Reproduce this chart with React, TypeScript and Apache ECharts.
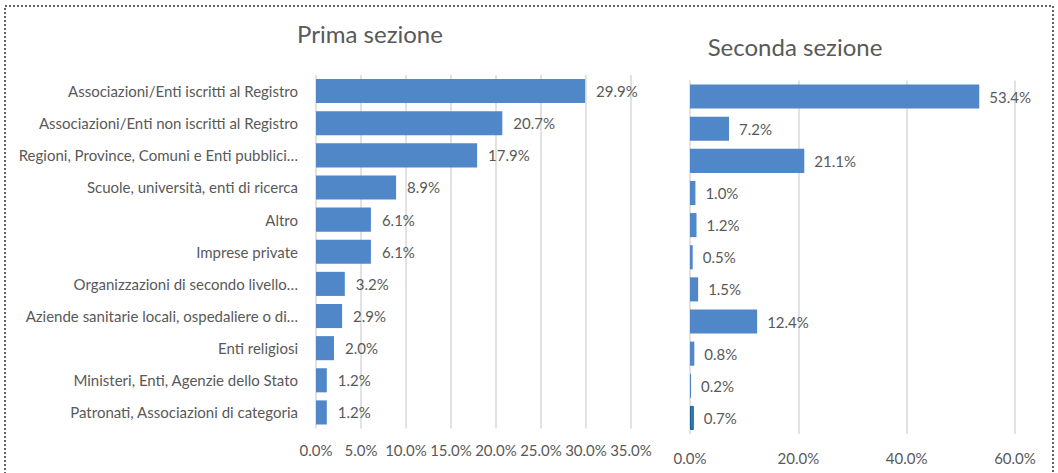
import React, { useEffect, useRef } from "react";
import * as echarts from "echarts";

const categories = [
  "Associazioni/Enti iscritti al Registro",
  "Associazioni/Enti non iscritti al Registro",
  "Regioni, Province, Comuni e Enti pubblici…",
  "Scuole, università, enti di ricerca",
  "Altro",
  "Imprese private",
  "Organizzazioni di secondo livello…",
  "Aziende sanitarie locali, ospedaliere o di…",
  "Enti religiosi",
  "Ministeri, Enti, Agenzie dello Stato",
  "Patronati, Associazioni di categoria",
];

const primaSezione = [29.9, 20.7, 17.9, 8.9, 6.1, 6.1, 3.2, 2.9, 2.0, 1.2, 1.2];
const secondaSezione = [53.4, 7.2, 21.1, 1.0, 1.2, 0.5, 1.5, 12.4, 0.8, 0.2, 0.7];

const titles = ["Prima sezione", "Seconda sezione"];

const FONT = "Lato";
const GRAY = "#595959";
const BAR = "#4f87c8";
const GRID = "#d9d9d9";

export default function App() {
  const ref = useRef<HTMLDivElement>(null);
  useEffect(() => {
    if (!ref.current) return;
    const chart = echarts.init(ref.current, undefined, { renderer: "svg" });
    const pct = (v: number) => v.toFixed(1) + "%";
    chart.setOption({
      animation: false,
      textStyle: { fontFamily: FONT },
      grid: [
        { left: 316, right: 427, top: 75, bottom: 44.5 },
        { left: 690, right: 43, top: 80.5, bottom: 39 },
      ],
      xAxis: [
        {
          gridIndex: 0,
          type: "value",
          min: 0,
          max: 35,
          interval: 5,
          axisLabel: { formatter: pct, color: GRAY, fontSize: 15, margin: 14, fontFamily: FONT },
          splitLine: { lineStyle: { color: GRID, width: 1.5 } },
          axisLine: { show: false },
          axisTick: { show: false },
        },
        {
          gridIndex: 1,
          type: "value",
          min: 0,
          max: 60,
          interval: 20,
          axisLabel: { formatter: pct, color: GRAY, fontSize: 15, margin: 16, fontFamily: FONT },
          splitLine: { lineStyle: { color: GRID, width: 1.5 } },
          axisLine: { show: false },
          axisTick: { show: false },
        },
      ],
      yAxis: [
        {
          gridIndex: 0,
          type: "category",
          data: categories,
          inverse: true,
          axisLabel: { color: GRAY, fontSize: 15, margin: 18, fontFamily: FONT },
          axisLine: { show: false },
          axisTick: { show: false },
        },
        {
          gridIndex: 1,
          type: "category",
          data: categories,
          inverse: true,
          axisLabel: { show: false },
          axisLine: { show: false },
          axisTick: { show: false },
        },
      ],
      series: [
        {
          type: "bar",
          xAxisIndex: 0,
          yAxisIndex: 0,
          data: primaSezione,
          barCategoryGap: "25%",
          itemStyle: { color: BAR },
          label: {
            show: true,
            position: "right",
            distance: 11,
            formatter: (p: any) => pct(p.value),
            color: GRAY,
            fontSize: 15,
            fontFamily: FONT,
          },
        },
        {
          type: "bar",
          xAxisIndex: 1,
          yAxisIndex: 1,
          data: secondaSezione.map((v, i) =>
            i === secondaSezione.length - 1
              ? { value: v, itemStyle: { color: "#2f7bb6", borderColor: "#1f5f8f", borderWidth: 1 } }
              : v
          ),
          barCategoryGap: "25%",
          itemStyle: { color: BAR },
          label: {
            show: true,
            position: "right",
            distance: 10,
            formatter: (p: any) => pct(p.value),
            color: GRAY,
            fontSize: 15,
            fontFamily: FONT,
          },
        },
      ],
      graphic: [
        {
          type: "rect",
          shape: { x: 5, y: 6, width: 1048, height: 480 },
          style: { fill: "none", stroke: "#333", lineWidth: 1.5, lineDash: [2, 2] },
          silent: true,
        },
        {
          type: "text",
          x: 370,
          y: 33,
          style: {
            text: titles[0],
            fill: GRAY,
            fontSize: 24,
            fontFamily: FONT,
            textAlign: "center",
            textVerticalAlign: "middle",
          },
        },
        {
          type: "text",
          x: 795,
          y: 46,
          style: {
            text: titles[1],
            fill: GRAY,
            fontSize: 24,
            fontFamily: FONT,
            textAlign: "center",
            textVerticalAlign: "middle",
          },
        },
      ],
    });
    return () => chart.dispose();
  }, []);
  return (
    <div
      ref={ref}
      style={{ position: "absolute", left: 0, top: 0, width: 1058, height: 473, background: "#fff" }}
    />
  );
}
